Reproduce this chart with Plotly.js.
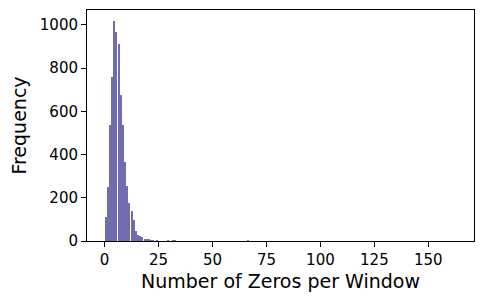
<!DOCTYPE html>
<html>
<head>
<meta charset="utf-8">
<script src="https://cdn.plot.ly/plotly-3.0.1.min.js"></script>
<style>html,body{margin:0;padding:0;background:#fff;}#chart{width:483px;height:303px;}</style>
</head>
<body>
<div id="chart"></div>
<script>
// Histogram: number of zeros per window (bin left edge) and frequency
const zeroBins = [0,1,2,3,4,5,6,7,8,9,10,11,12,13,14,15,16,17,18,19,20,21,22,23,24,25,26,27,28,29,30,31,32,33,66,97,163];
const frequency = [112,251,537,760,1018,968,913,676,537,365,255,177,139,98,48,28,24,17,9,8,8,5,5,2,3,2,1,1,2,3,1,3,3,1,4,2,1];
const xTicks = [0,25,50,75,100,125,150];
const yTicks = [0,200,400,600,800,1000];

const trace = {
  type: 'bar',
  x: zeroBins.map(b => b + 0.5),
  y: frequency,
  width: 0.92,
  marker: {color: '#716cae', line: {width: 0}},
  hoverinfo: 'x+y'
};

const font = {family: 'DejaVu Sans, sans-serif', color: '#000'};
const layout = {
  width: 483, height: 303,
  margin: {l: 87, r: 9, t: 10, b: 62},
  paper_bgcolor: '#fff', plot_bgcolor: '#fff',
  showlegend: false,
  bargap: 0,
  font: font,
  xaxis: {
    range: [-8.15, 171.15],
    tickvals: xTicks, ticktext: xTicks.map(String),
    ticks: 'outside', ticklen: 5, tickwidth: 1, tickcolor: '#000',
    showline: true, mirror: true, linecolor: '#000', linewidth: 1,
    showgrid: false, zeroline: false,
    tickfont: {family: font.family, size: 15, color: '#000'},
    title: {text: 'Number of Zeros per Window', font: {family: font.family, size: 19, color: '#000'}, standoff: 6}
  },
  yaxis: {
    range: [0, 1069],
    tickvals: yTicks, ticktext: yTicks.map(String),
    ticks: 'outside', ticklen: 5, tickwidth: 1, tickcolor: '#000',
    showline: true, mirror: true, linecolor: '#000', linewidth: 1,
    showgrid: false, zeroline: false,
    tickfont: {family: font.family, size: 15, color: '#000'},
    title: {text: 'Frequency', font: {family: font.family, size: 19, color: '#000'}, standoff: 8}
  }
};

Plotly.newPlot('chart', [trace], layout, {displayModeBar: false, staticPlot: true});
</script>
</body>
</html>
